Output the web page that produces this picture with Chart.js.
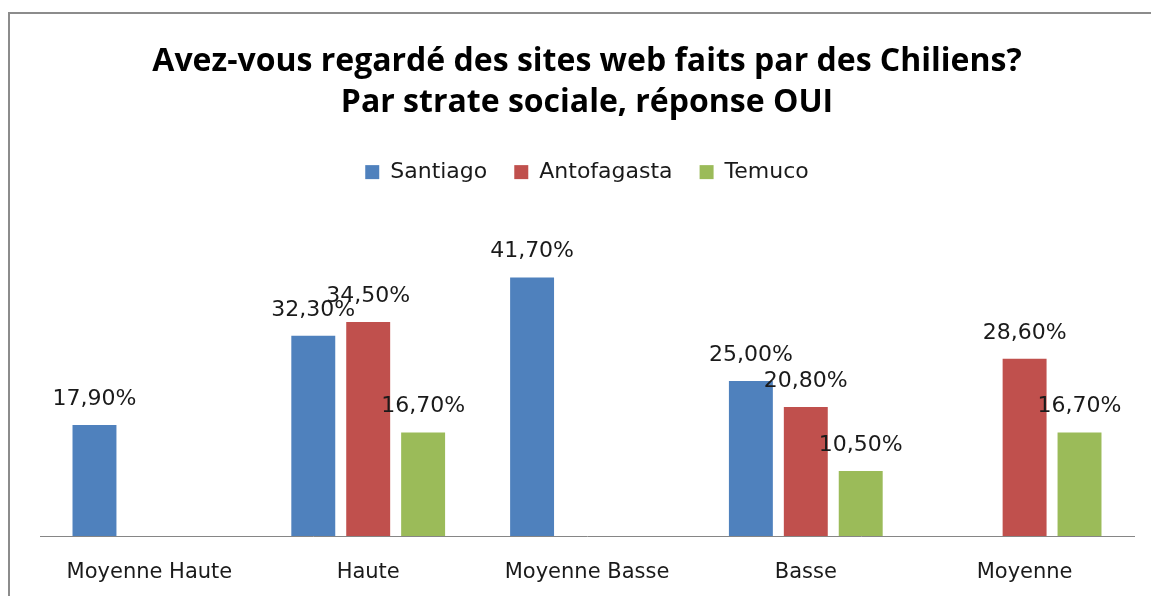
<!DOCTYPE html>
<html>
<head>
<meta charset="utf-8">
<script src="https://cdn.jsdelivr.net/npm/chart.js@4/dist/chart.umd.min.js"></script>
<style>
  html, body { margin:0; padding:0; background:#fff; overflow:hidden; }
  #frame { position:absolute; left:8px; top:12px; width:1300px; height:800px;
           border:2px solid #8c8c8c; box-sizing:border-box; }
  #wrap { position:absolute; left:0; top:0; width:1151px; height:596px; }
</style>
</head>
<body>
<div id="frame"></div>
<div id="wrap"><canvas id="chart"></canvas></div>
<script>
// strates sociales, réponse OUI (%)
const categories = ['Moyenne Haute', 'Haute', 'Moyenne Basse', 'Basse', 'Moyenne'];
const santiago    = [17.9, 32.3, 41.7, 25.0, null];
const antofagasta = [null, 34.5, null, 20.8, 28.6];
const temuco      = [null, 16.7, null, 10.5, 16.7];

const fmtPct = v => v.toFixed(2).replace('.', ',') + '%';

// Excel-style value labels above each bar
const barLabels = {
  id: 'barLabels',
  afterDatasetsDraw(chart) {
    const ctx = chart.ctx;
    ctx.save();
    ctx.font = '22px "DejaVu Sans"';
    ctx.fillStyle = '#1a1a1a';
    ctx.textAlign = 'center';
    ctx.textBaseline = 'alphabetic';
    chart.data.datasets.forEach((ds, i) => {
      chart.getDatasetMeta(i).data.forEach((bar, j) => {
        const v = ds.data[j];
        if (v == null) return;
        ctx.fillText(fmtPct(v), bar.x, bar.y - 20);
      });
    });
    ctx.restore();
  }
};

const mkDs = (label, data, color) => ({
  label, data,
  backgroundColor: color,
  borderWidth: 0,
  categoryPercentage: 0.753,
  barPercentage: 0.8,
});

new Chart(document.getElementById('chart'), {
  type: 'bar',
  data: {
    labels: categories,
    datasets: [
      mkDs('Santiago',    santiago,    '#4F81BD'),
      mkDs('Antofagasta', antofagasta, '#C0504D'),
      mkDs('Temuco',      temuco,      '#9BBB59'),
    ],
  },
  options: {
    responsive: true,
    maintainAspectRatio: false,
    animation: false,
    layout: { padding: { left: 40, right: 17, top: 0, bottom: 0 } },
    plugins: {
      title: {
        display: true,
        text: ['Avez-vous regardé des sites web faits par des Chiliens?', 'Par strate sociale, réponse OUI'],
        color: '#000',
        font: { family: '"Open Sans"', size: 32, weight: 'bold', lineHeight: 1.28 },
        padding: { top: 41.6, bottom: 10.6 },
      },
      legend: {
        labels: {
          color: '#1a1a1a',
          boxWidth: 14, boxHeight: 14,
          padding: 27,
          font: { family: '"DejaVu Sans"', size: 22 },
        },
      },
      tooltip: { enabled: false },
    },
    scales: {
      x: {
        grid: { display: false },
        border: { color: '#868686', width: 1 },
        ticks: { color: '#1a1a1a', padding: 16, font: { family: '"DejaVu Sans"', size: 21 } },
        afterFit(scale) { scale.height = 60; },
      },
      y: { display: false, min: 0, max: 55.3 },
    },
  },
  plugins: [barLabels],
});
</script>
</body>
</html>
